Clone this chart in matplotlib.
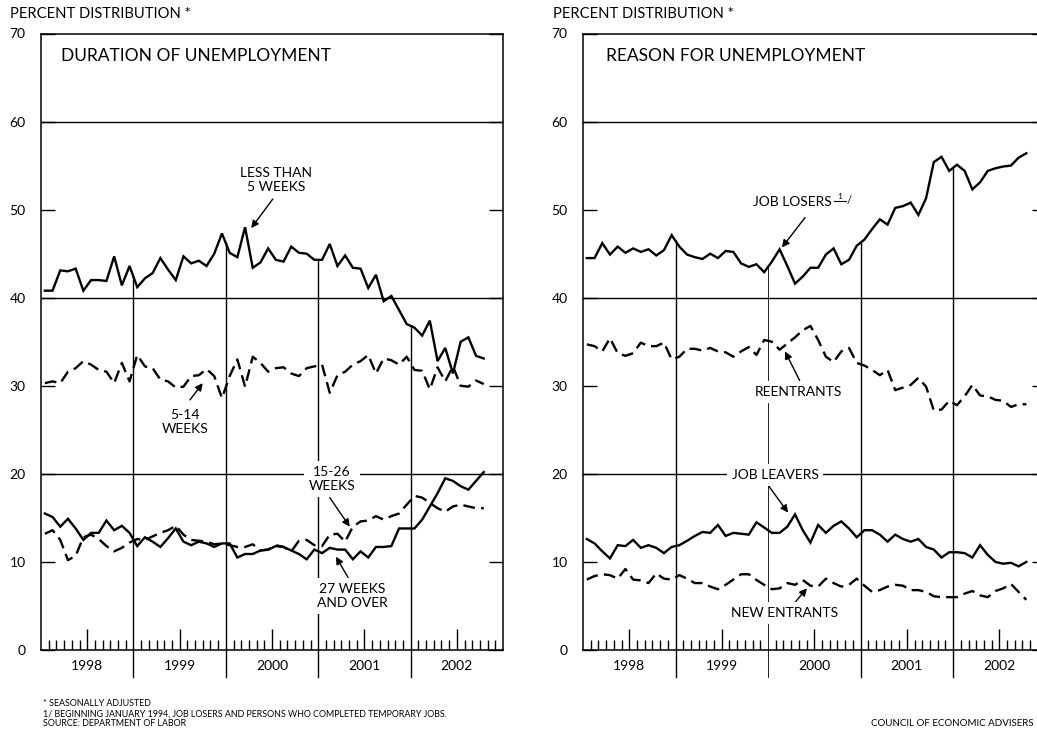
import numpy as np
import matplotlib
matplotlib.use('Agg')
import matplotlib.pyplot as plt

plt.rcParams['font.family'] = ['Lato', 'DejaVu Sans']

# ---------------- data (monthly, Jan 1998 - Oct 2002, percent) ----------------
years = ['1998', '1999', '2000', '2001', '2002']

less5 = [40.8, 40.8, 43.1, 43.0, 43.3, 40.8, 42.0, 42.0, 41.9, 44.7, 41.4, 43.6,
         41.2, 42.2, 42.8, 44.5, 43.2, 42.0, 44.7, 43.9, 44.2, 43.6, 45.0, 47.3,
         45.1, 44.6, 48.0, 43.4, 44.0, 45.6, 44.3, 44.1, 45.8, 45.1, 45.0, 44.3,
         44.3, 46.1, 43.6, 44.8, 43.4, 43.3, 41.1, 42.6, 39.6, 40.2, 38.6, 37.0,
         36.6, 35.7, 37.4, 32.8, 34.3, 31.4, 35.0, 35.5, 33.4, 33.1]
w5_14 = [30.3, 30.5, 30.3, 31.6, 32.0, 32.8, 32.4, 31.8, 31.6, 30.3, 32.6, 30.5,
         33.5, 32.2, 32.0, 30.7, 30.5, 29.8, 29.9, 31.1, 31.2, 31.9, 31.1, 28.6,
         31.1, 33.0, 29.9, 33.3, 32.6, 31.6, 32.0, 32.1, 31.4, 31.1, 32.0, 32.2,
         32.4, 29.2, 31.2, 31.6, 32.4, 32.8, 33.5, 31.4, 33.1, 32.9, 32.4, 33.3,
         31.8, 31.7, 29.6, 32.1, 30.5, 32.2, 30.0, 29.9, 30.6, 30.2]
w15_26 = [13.2, 13.6, 12.5, 10.2, 10.7, 12.8, 13.1, 12.6, 11.8, 11.2, 11.6, 12.2,
          12.6, 12.5, 12.9, 13.3, 13.6, 14.1, 13.1, 12.5, 12.4, 12.3, 12.0, 12.1,
          11.9, 11.7, 11.7, 12.0, 11.3, 11.4, 11.9, 11.7, 11.2, 12.4, 12.5, 11.9,
          11.8, 13.1, 13.2, 12.3, 14.0, 14.6, 14.7, 15.2, 14.8, 15.2, 15.5, 16.5,
          17.5, 17.3, 16.7, 16.1, 15.7, 16.3, 16.5, 16.3, 16.1, 16.1]
w27 = [15.5, 15.1, 14.0, 14.9, 13.8, 12.5, 13.3, 13.3, 14.7, 13.6, 14.1, 13.3,
       11.8, 12.8, 12.3, 11.7, 12.7, 13.8, 12.3, 11.9, 12.3, 12.1, 11.7, 12.1,
       12.1, 10.5, 10.9, 10.9, 11.3, 11.4, 11.8, 11.7, 11.3, 10.9, 10.3, 11.4,
       11.0, 11.6, 11.4, 11.4, 10.3, 11.2, 10.5, 11.7, 11.7, 11.8, 13.8, 13.8,
       13.8, 14.8, 16.3, 17.8, 19.5, 19.2, 18.6, 18.2, 19.2, 20.2]

losers = [44.5, 44.5, 46.2, 44.9, 45.8, 45.1, 45.6, 45.2, 45.5, 44.8, 45.4, 47.1,
          45.8, 44.9, 44.6, 44.4, 45.0, 44.5, 45.3, 45.2, 43.9, 43.5, 43.8, 42.9,
          44.1, 45.5, 43.6, 41.6, 42.4, 43.4, 43.4, 44.9, 45.6, 43.8, 44.3, 45.9,
          46.6, 47.8, 48.9, 48.3, 50.2, 50.4, 50.8, 49.4, 51.3, 55.4, 56.0, 54.4,
          55.1, 54.4, 52.3, 53.1, 54.4, 54.7, 54.9, 55.0, 55.9, 56.4]
reentrants = [34.7, 34.5, 33.9, 35.4, 33.7, 33.4, 33.7, 34.9, 34.5, 34.5, 34.9, 33.0,
              33.3, 34.2, 34.2, 34.0, 34.3, 33.9, 33.8, 33.3, 33.9, 34.4, 33.5, 35.2,
              35.0, 34.1, 34.8, 35.5, 36.3, 36.8, 35.2, 33.3, 32.7, 33.9, 34.3, 32.6,
              32.3, 31.8, 31.2, 31.8, 29.5, 29.8, 30.1, 30.9, 29.9, 27.2, 27.3, 28.3,
              27.8, 28.8, 30.1, 28.9, 28.8, 28.4, 28.3, 27.6, 27.9, 27.9]
leavers = [12.6, 12.1, 11.2, 10.4, 11.9, 11.8, 12.5, 11.6, 11.9, 11.6, 11.0, 11.7,
           11.9, 12.4, 12.95, 13.4, 13.3, 14.2, 12.95, 13.3, 13.2, 13.1, 14.5, 13.9,
           13.3, 13.3, 14.0, 15.4, 13.6, 12.2, 14.2, 13.3, 14.1, 14.6, 13.8, 12.8,
           13.6, 13.6, 13.1, 12.3, 13.1, 12.6, 12.3, 12.6, 11.7, 11.4, 10.5, 11.1,
           11.1, 11.0, 10.5, 11.9, 10.8, 10.0, 9.8, 9.9, 9.5, 10.0]
new_entrants = [8.0, 8.4, 8.6, 8.5, 8.1, 9.2, 8.0, 7.9, 7.6, 8.7, 8.1, 8.0,
                8.5, 8.1, 7.6, 7.6, 7.2, 6.9, 7.4, 8.0, 8.6, 8.6, 7.95, 7.4,
                6.9, 7.0, 7.6, 7.4, 7.95, 7.3, 7.2, 8.1, 7.6, 7.2, 7.4, 8.1,
                7.3, 6.6, 6.8, 7.2, 7.4, 7.3, 6.8, 6.8, 6.6, 6.1, 6.0, 6.0,
                6.0, 6.4, 6.7, 6.2, 6.0, 6.7, 7.0, 7.5, 6.6, 5.7]

months = np.arange(len(less5)) + 0.5   # mid-month positions, months since Jan 1998

# ---------------- figure ----------------
W, H = 1037, 734
fig = plt.figure(figsize=(W / 100, H / 100), dpi=100)


def px_rect(l, r, t, b):
    return [l / W, 1 - b / H, (r - l) / W, (b - t) / H]


axL = fig.add_axes(px_rect(41, 503, 33.5, 650))
axR = fig.add_axes(px_rect(583, 1045.6, 33.5, 650))

LW = 1.7
DASH = (0, (5, 2.6))
FS = 10


def setup(ax, top_series, thin_idx=None):
    ax.set_xlim(0, 60)
    ax.set_ylim(0, 70)
    for s in ax.spines.values():
        s.set_linewidth(1.1)
    ax.set_yticks(range(0, 71, 10))
    ax.tick_params(axis='y', which='major', direction='in', length=10, width=1.0,
                   left=True, right=True, labelsize=FS, pad=11)
    ax.set_xticks([6, 18, 30, 42, 54])
    ax.set_xticklabels(years)
    ax.set_xticks([m for m in range(1, 60) if m % 6], minor=True)
    ax.tick_params(axis='x', which='major', direction='in', length=15, width=1.0,
                   labelsize=FS, pad=7)
    ax.tick_params(axis='x', which='minor', direction='in', length=7, width=1.0)
    for g in (20, 40, 60):
        ax.axhline(g, color='black', lw=1.0, zorder=1)
    for k, b in enumerate((12, 24, 36, 48)):
        top = np.interp(b, months, top_series)
        lw = 0.6 if k == thin_idx else 1.0
        ax.plot([b, b], [-3.1, top], color='black', lw=lw, clip_on=False, zorder=1)


setup(axL, less5)
setup(axR, losers, thin_idx=1)

line_kw = dict(color='black', lw=LW, solid_joinstyle='miter', zorder=3)
axL.plot(months, less5, **line_kw)
axL.plot(months, w5_14, ls=DASH, **line_kw)
axL.plot(months, w15_26, ls=DASH, **line_kw)
axL.plot(months, w27, **line_kw)

axR.plot(months, losers, **line_kw)
axR.plot(months, reentrants, ls=DASH, **line_kw)
axR.plot(months, leavers, **line_kw)
axR.plot(months, new_entrants, ls=DASH, **line_kw)

box = dict(boxstyle='square,pad=0.35', fc='white', ec='none')
arrow = dict(arrowstyle='-|>', color='black', lw=1.0, mutation_scale=11,
             shrinkA=0, shrinkB=0)


def label(ax, text, pos, ha='center', va='center'):
    ax.text(pos[0], pos[1], text, ha=ha, va=va, fontsize=FS, linespacing=1.2,
            bbox=box, zorder=5)


def arr(ax, start, end):
    ax.annotate('', xy=end, xytext=start, arrowprops=arrow, zorder=4)


# left panel labels
label(axL, 'LESS THAN\n5 WEEKS', (30.5, 53.4))
arr(axL, (30.1, 51.2), (27.3, 47.9))
label(axL, '5-14\nWEEKS', (18.7, 25.9))
arr(axL, (19.35, 28.4), (21.0, 30.3))
label(axL, '15-26\nWEEKS', (37.8, 19.4))
arr(axL, (37.5, 17.3), (40.1, 14.0))
label(axL, '27 WEEKS\nAND OVER', (40.4, 6.1))
arr(axL, (39.9, 8.2), (38.3, 10.6))

# right panel labels
axR.text(22.05, 50.9, 'JOB LOSERS', ha='left', va='center', fontsize=FS, zorder=5)
axR.text(33.3, 51.45, '1', ha='center', va='center', fontsize=6, zorder=5)
axR.plot([32.6, 34.1], [50.95, 50.95], color='black', lw=0.8, zorder=5)
axR.text(34.5, 51.0, '/', ha='center', va='center', fontsize=8, zorder=5)
arr(axR, (28.8, 49.1), (25.8, 45.7))
label(axR, 'REENTRANTS', (27.9, 29.3))
arr(axR, (28.1, 30.6), (26.2, 33.9))
label(axR, 'JOB LEAVERS', (24.9, 19.9))
arr(axR, (24.1, 18.6), (26.6, 15.6))
label(axR, 'NEW ENTRANTS', (26.2, 4.2))
arr(axR, (27.1, 5.0), (29.05, 7.0))

# panel titles
axL.text(2.6, 67.4, 'DURATION OF UNEMPLOYMENT', ha='left', va='center', fontsize=12.5)
axR.text(3.0, 67.4, 'REASON FOR UNEMPLOYMENT', ha='left', va='center', fontsize=12.5)


def ftext(x, y, s, **kw):
    fig.text(x / W, 1 - y / H, s, **kw)


ftext(10, 14, 'PERCENT DISTRIBUTION *', ha='left', va='center', fontsize=10.6)
ftext(553, 14, 'PERCENT DISTRIBUTION *', ha='left', va='center', fontsize=10.6)

ftext(43, 704, '* SEASONALLY ADJUSTED', ha='left', va='center', fontsize=6.4)
ftext(43, 714, '1/ BEGINNING JANUARY 1994, JOB LOSERS AND PERSONS WHO COMPLETED TEMPORARY JOBS.',
      ha='left', va='center', fontsize=6.4)
ftext(43, 724, 'SOURCE: DEPARTMENT OF LABOR', ha='left', va='center', fontsize=6.4)
ftext(1034, 724, 'COUNCIL OF ECONOMIC ADVISERS', ha='right', va='center', fontsize=7.0)

fig.savefig('out.png', dpi=100)
